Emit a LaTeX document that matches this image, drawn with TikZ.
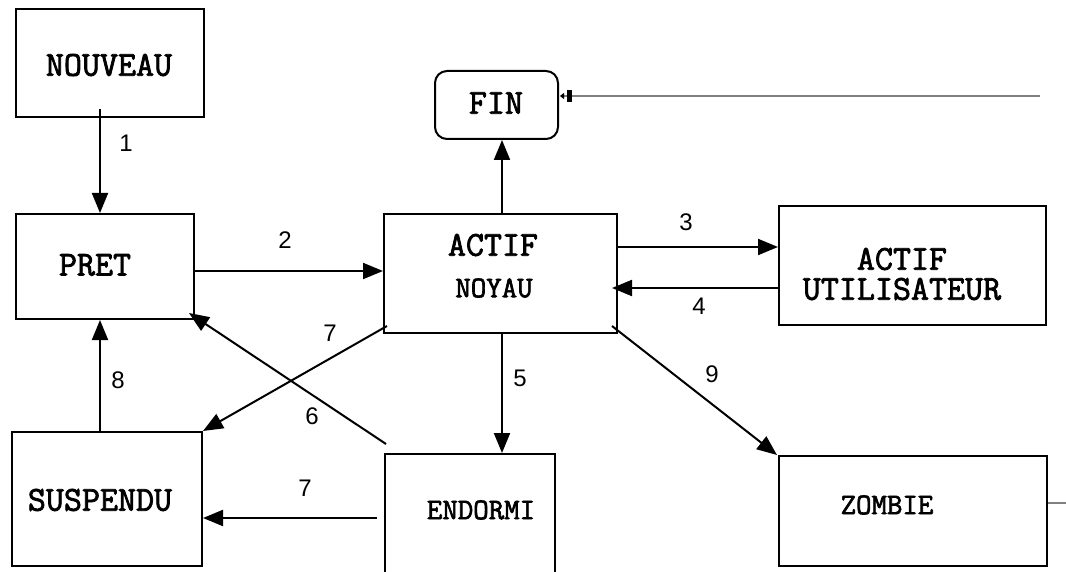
\documentclass[tikz,border=0pt]{standalone}
\usepackage{fontspec}
\setmainfont{Liberation Sans}
\newfontfamily\courier[FakeBold=2.2]{Latin Modern Mono}
\usetikzlibrary{arrows.meta}

\begin{document}
\begin{tikzpicture}[x=1pt, y=-1pt,
  etat/.style={draw, line width=2pt, inner sep=0pt},
  grand/.style={font=\courier\fontsize{35}{30}\selectfont, align=center, inner sep=0pt},
  petit/.style={font=\courier\fontsize{30}{30}\selectfont, inner sep=0pt},
  num/.style={font=\fontsize{24}{26}\selectfont, fill=white, inner sep=1pt},
  fleche/.style={-{Triangle[length=20pt,width=16pt]}, line width=2pt},
  gris/.style={line width=2pt, black!50}
]
\useasboundingbox (0,0) rectangle (1066,572);

% les etats
\node[etat, minimum width=188, minimum height=108] (nouveau) at (110,63) {};
\node[etat, minimum width=123, minimum height=68, rounded corners=12pt] (fin) at (496.5,105) {};
\node[etat, minimum width=178, minimum height=105] (pret) at (105,266.5) {};
\node[etat, minimum width=233, minimum height=119] (noyau) at (500.5,273.5) {};
\node[etat, minimum width=267, minimum height=119] (utilisateur) at (912.5,265.5) {};
\node[etat, minimum width=190, minimum height=134] (suspendu) at (107,499) {};
\node[etat, minimum width=170, minimum height=146] (endormi) at (470,527) {};
\node[etat, minimum width=268, minimum height=110] (zombie) at (913,511) {};

% leurs noms
\node[grand] (t-nouveau) at (109,65) {NOUVEAU};
\node[grand] (t-fin) at (496,103) {FIN};
\node[grand] (t-pret) at (95,265) {PRET};
\node[grand] (t-actif) at (493,245) {ACTIF};
\node[petit] (t-noyau) at (494,288) {NOYAU};
\node[grand] (t-utilisateur) at (902,274) {ACTIF\\UTILISATEUR};
\node[grand] (t-suspendu) at (100,500) {SUSPENDU};
\node[petit] (t-endormi) at (481,510) {ENDORMI};
\node[petit] (t-zombie) at (887,505) {ZOMBIE};

% transitions
\draw[fleche] ([xshift=-10pt,yshift=9pt]nouveau.south) -- ([xshift=-5pt]pret.north);
\draw[fleche] ([yshift=-4.5pt]pret.east) -- ([yshift=2.5pt]noyau.west);
\draw[fleche] ([yshift=26.5pt]noyau.east) -- ([yshift=18.5pt]utilisateur.west);
\draw[fleche] ([yshift=-22.5pt]utilisateur.west) -- ([xshift=-6pt,yshift=-14.5pt]noyau.east);
\draw[fleche] ([xshift=1.5pt]noyau.north) -- ([xshift=5.5pt]fin.south);
\draw[fleche] ([xshift=1.5pt]noyau.south) -- ([xshift=32pt]endormi.north);
\draw[fleche] ([xshift=4pt,yshift=8pt]noyau.south west) -- (suspendu.north east);
\draw[fleche] ([xshift=2pt,yshift=9pt]endormi.north west) -- ([xshift=-6pt,yshift=7pt]pret.south east);
\draw[fleche] ([xshift=-7pt]suspendu.north) -- ([xshift=-5pt]pret.south);
\draw[fleche] ([xshift=-7pt,yshift=9pt]endormi.west) -- ([yshift=-19pt]suspendu.east);
\draw[fleche] ([xshift=-6pt,yshift=8pt]noyau.south east) -- ([xshift=-1pt]zombie.north west);

% numeros
\node[num] (n1) at (126,143) {1};
\node[num] (n2) at (285,240) {2};
\node[num] (n3) at (686,222) {3};
\node[num] (n4) at (699,306) {4};
\node[num] (n5) at (520,378) {5};
\node[num] (n6) at (312,416) {6};
\node[num] (n7a) at (330,333) {7};
\node[num] (n7b) at (305,488) {7};
\node[num] (n8) at (118,380) {8};
\node[num] (n9) at (712,374) {9};

% liens en gris
\coordinate (finbord) at (1040,96);
\coordinate (zombiebord) at (1066,503);
\draw[gris, -{Bar[width=12pt,line width=5pt,black,sep=3pt]Triangle[length=4pt,width=6pt,black]}] (finbord) -- ([xshift=1pt,yshift=9pt]fin.east);
\draw[gris] ([yshift=8pt]zombie.east) -- (zombiebord);

\end{tikzpicture}
\end{document}
